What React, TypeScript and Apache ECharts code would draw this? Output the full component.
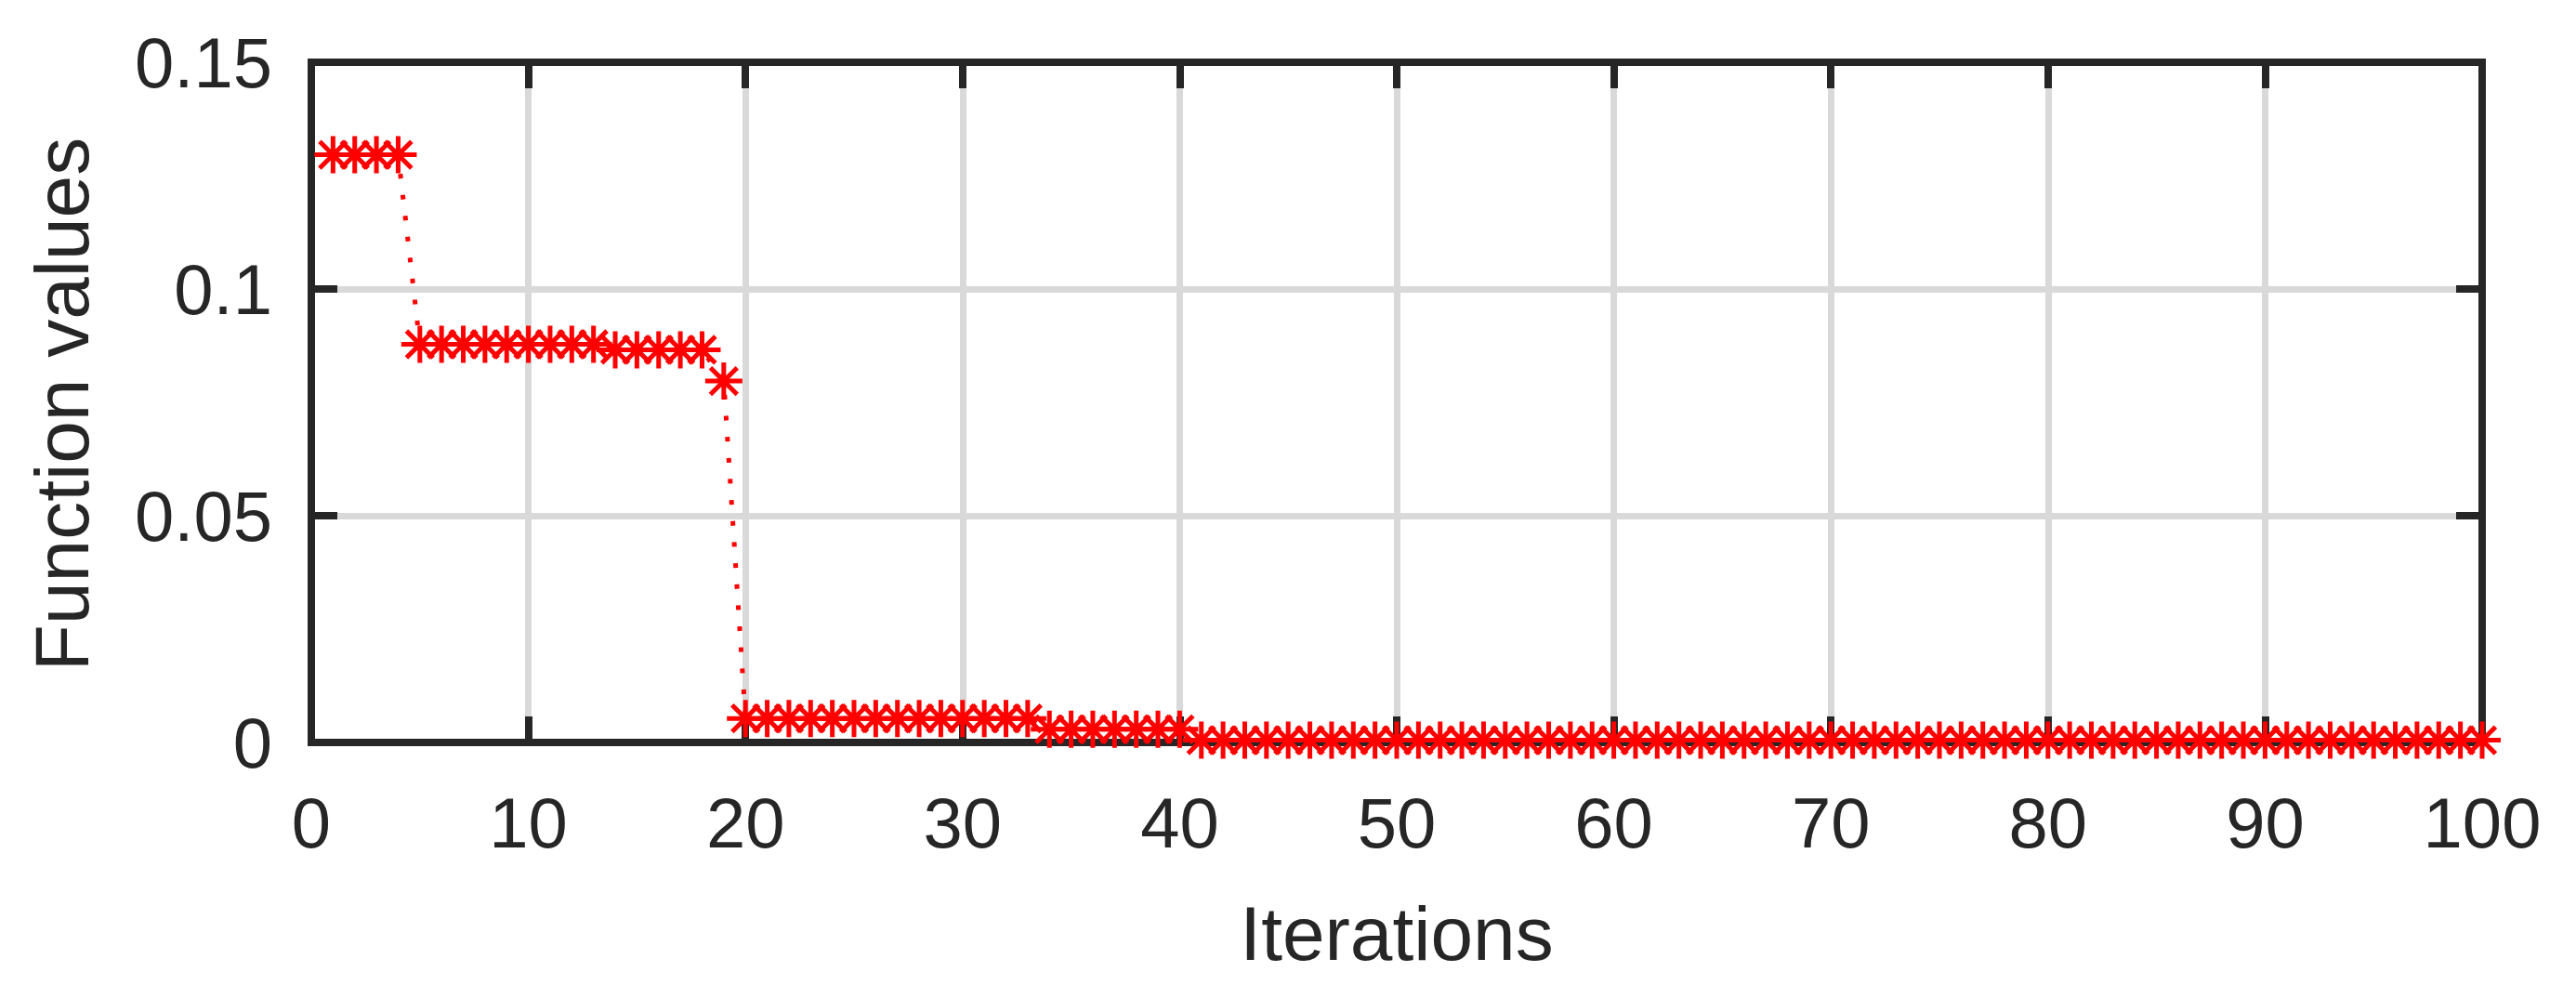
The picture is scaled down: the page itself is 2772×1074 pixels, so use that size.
import React, { useEffect, useRef } from "react";
import * as echarts from "echarts";

const ITERATIONS = [
  1, 2, 3, 4, 5, 6, 7, 8, 9, 10, 11, 12, 13, 14, 15, 16, 17, 18, 19, 20,
  21, 22, 23, 24, 25, 26, 27, 28, 29, 30, 31, 32, 33, 34, 35, 36, 37, 38, 39, 40,
  41, 42, 43, 44, 45, 46, 47, 48, 49, 50, 51, 52, 53, 54, 55, 56, 57, 58, 59, 60,
  61, 62, 63, 64, 65, 66, 67, 68, 69, 70, 71, 72, 73, 74, 75, 76, 77, 78, 79, 80,
  81, 82, 83, 84, 85, 86, 87, 88, 89, 90, 91, 92, 93, 94, 95, 96, 97, 98, 99, 100,
];

const FUNCTION_VALUES = [
  0.1296, 0.1296, 0.1296, 0.1296,
  0.0878, 0.0878, 0.0878, 0.0878, 0.0878, 0.0878, 0.0878, 0.0878, 0.0878,
  0.0866, 0.0866, 0.0866, 0.0866, 0.0866,
  0.0797,
  0.0053, 0.0053, 0.0053, 0.0053, 0.0053, 0.0053, 0.0053, 0.0053, 0.0053, 0.0053,
  0.0053, 0.0053, 0.0053, 0.0053,
  0.0029, 0.0029, 0.0029, 0.0029, 0.0029, 0.0029, 0.0029,
  0.0005, 0.0005, 0.0005, 0.0005, 0.0005, 0.0005, 0.0005, 0.0005, 0.0005, 0.0005,
  0.0005, 0.0005, 0.0005, 0.0005, 0.0005, 0.0005, 0.0005, 0.0005, 0.0005, 0.0005,
  0.0005, 0.0005, 0.0005, 0.0005, 0.0005, 0.0005, 0.0005, 0.0005, 0.0005, 0.0005,
  0.0005, 0.0005, 0.0005, 0.0005, 0.0005, 0.0005, 0.0005, 0.0005, 0.0005, 0.0005,
  0.0005, 0.0005, 0.0005, 0.0005, 0.0005, 0.0005, 0.0005, 0.0005, 0.0005, 0.0005,
  0.0005, 0.0005, 0.0005, 0.0005, 0.0005, 0.0005, 0.0005, 0.0005, 0.0005, 0.0005,
];

const X_TITLE = "Iterations";
const Y_TITLE = "Function values";
const X_RANGE = [0, 100];
const X_STEP = 10;
const Y_RANGE = [0, 0.15];
const Y_STEP = 0.05;

const W = 2772;
const H = 1074;
const FONT = "'Liberation Sans', Arial, Helvetica, sans-serif";
const INK = "#262626";
const GRID_GRAY = "#d9d9d9";
const RED = "#ff0000";

const ASTERISK =
  "path://M-1 0L1 0M0 -1L0 1M-0.72 -0.72L0.72 0.72M-0.72 0.72L0.72 -0.72";

export default function App() {
  const ref = useRef<HTMLDivElement>(null);

  useEffect(() => {
    if (!ref.current) return;
    const chart = echarts.init(ref.current, null, { renderer: "svg" });

    const axisLine = {
      show: true,
      onZero: false,
      lineStyle: { color: INK, width: 8, cap: "square" },
    };
    const tick = {
      show: true,
      inside: true,
      length: 28,
      lineStyle: { color: INK, width: 8 },
    };
    const split = {
      show: true,
      showMinLine: false,
      showMaxLine: false,
      lineStyle: { color: GRID_GRAY, width: 7 },
    };
    const label = {
      color: INK,
      fontFamily: FONT,
      fontSize: 76,
    };

    const data = ITERATIONS.map((x, i) => [x, FUNCTION_VALUES[i]]);

    chart.setOption({
      animation: false,
      backgroundColor: "#ffffff",
      grid: { left: 335, right: 101, top: 67, bottom: 275, containLabel: false },
      xAxis: [
        {
          type: "value",
          position: "bottom",
          min: X_RANGE[0],
          max: X_RANGE[1],
          interval: X_STEP,
          axisLine,
          axisTick: tick,
          splitLine: split,
          axisLabel: { ...label, margin: 48 },
        },
        {
          type: "value",
          position: "top",
          min: X_RANGE[0],
          max: X_RANGE[1],
          interval: X_STEP,
          axisLine,
          axisTick: tick,
          splitLine: { show: false },
          axisLabel: { show: false },
        },
      ],
      yAxis: [
        {
          type: "value",
          position: "left",
          min: Y_RANGE[0],
          max: Y_RANGE[1],
          interval: Y_STEP,
          axisLine,
          axisTick: tick,
          splitLine: split,
          axisLabel: { ...label, margin: 42 },
        },
        {
          type: "value",
          position: "right",
          min: Y_RANGE[0],
          max: Y_RANGE[1],
          interval: Y_STEP,
          axisLine,
          axisTick: tick,
          splitLine: { show: false },
          axisLabel: { show: false },
        },
      ],
      graphic: [
        {
          type: "text",
          x: 1503,
          y: 1004,
          style: {
            text: X_TITLE,
            fill: INK,
            font: `82px ${FONT}`,
            textAlign: "center",
            textVerticalAlign: "middle",
          },
        },
        {
          type: "text",
          x: 66,
          y: 435,
          rotation: Math.PI / 2,
          style: {
            text: Y_TITLE,
            fill: INK,
            font: `82px ${FONT}`,
            textAlign: "center",
            textVerticalAlign: "middle",
          },
        },
      ],
      series: [
        {
          type: "line",
          xAxisIndex: 0,
          yAxisIndex: 0,
          data,
          clip: false,
          showSymbol: true,
          symbol: ASTERISK,
          symbolSize: 40,
          symbolKeepAspect: true,
          itemStyle: {
            color: RED,
            borderColor: RED,
            borderWidth: 5,
          },
          lineStyle: {
            color: RED,
            width: 5,
            type: [5, 17.7],
          },
          emphasis: { disabled: true },
          z: 5,
        },
      ],
    });

    return () => chart.dispose();
  }, []);

  return (
    <div
      ref={ref}
      style={{
        position: "fixed",
        left: 0,
        top: 0,
        width: W,
        height: H,
        background: "#ffffff",
      }}
    />
  );
}
